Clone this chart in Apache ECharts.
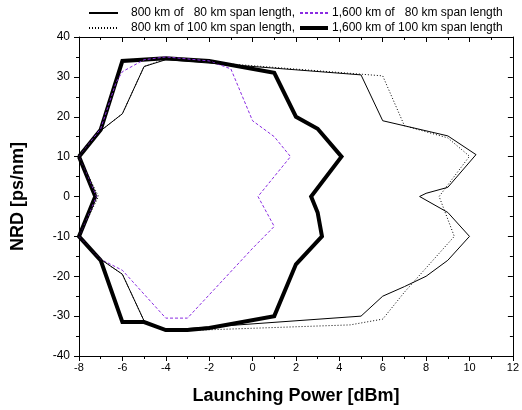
<!DOCTYPE html>
<html><head><meta charset="utf-8">
<script src="https://cdn.jsdelivr.net/npm/echarts@6/dist/echarts.min.js"></script>
<style>html,body{margin:0;padding:0;background:#fff}#c{width:522px;height:410px}</style>
</head><body><div id="c"></div>
<script>
// Series values: [launching power dBm, NRD ps/nm] traced round each closed contour
const s800_80 = [[-8,10],[-7,16.5],[-6,20.75],[-5,32.6],[-4,34.3],[5,30.5],[6,19],[9,15.2],[10.3,10.5],[9,2.3],[8,0.8],[7.7,0],[9,-4],[10,-10],[9,-16],[8,-20],[7,-22.6],[6,-25],[5,-30],[-4,-33.5],[-5,-31.2],[-6,-19.5],[-7,-15.75],[-8,-10],[-7.25,0],[-8,10]];
const s800_100 = [[-8,10],[-7,16.5],[-6,20.75],[-5,32.6],[-4,34.5],[6,30.25],[7,17.75],[9,14.7],[10,10.1],[8.6,0],[9.3,-10],[7,-24],[6,-30.75],[4.5,-32.2],[-4,-33.8],[-5,-31.2],[-6,-19.5],[-7,-15.75],[-8,-10],[-7.1,0],[-8,10]];
const s1600_80 = [[-8,10],[-7,17],[-6.3,28.5],[-6,31.3],[-5,34.3],[-4,35],[-2,34],[-1,32],[0,19],[1,15],[1.75,10],[0.25,0],[1,-7.5],[0,-13],[-3,-30.5],[-4,-30.5],[-6,-18.5],[-7,-15.75],[-8,-10],[-7.2,0],[-8,10]];
const s1600_100 = [[-8,10],[-7,16.75],[-6,34],[-4,34.7],[-2,34],[1,31],[2,20],[3,17],[4.1,10],[2.7,0],[3,-4],[3.2,-10],[2,-17],[1,-30],[-2,-33],[-3,-33.5],[-4,-33.5],[-5,-31.5],[-6,-31.5],[-7,-16],[-8,-10],[-7.25,0],[-8,10]];
const names = ['800 km of   80 km span length,','800 km of 100 km span length,','1,600 km of   80 km span length','1,600 km of 100 km span length'];
const xRange = [-8, 12, 2];
const yRange = [-40, 40, 10];

const FONT = 'Liberation Sans, Arial, sans-serif';
const chart = echarts.init(document.getElementById('c'), null, {renderer:'canvas'});
const axisLine = {show:true, onZero:false, lineStyle:{color:'#000', width:1}};
const legendCommon = {
  orient:'vertical', top:7, itemHeight:12, itemGap:3, padding:0,
  itemStyle:{opacity:0}
};
chart.setOption({
  animation:false,
  backgroundColor:'#fff',
  legend:[
    Object.assign({}, legendCommon, {left:88, itemWidth:29,
      textStyle:{fontFamily:FONT, fontSize:12, color:'#000', padding:[0,0,0,8]},
      data:[{name:names[0]}, {name:names[1]}]}),
    Object.assign({}, legendCommon, {left:298, itemWidth:28,
      textStyle:{fontFamily:FONT, fontSize:12, color:'#000', padding:[0,0,0,-1]},
      data:[{name:names[2]}, {name:names[3], lineStyle:{width:4}}]})
  ],
  grid:{left:79, right:8, top:37, bottom:53, containLabel:false},
  xAxis:[
    {type:'value', min:xRange[0], max:xRange[1], interval:xRange[2], position:'bottom',
     axisLine:axisLine, splitLine:{show:false},
     axisTick:{show:true, inside:false, length:5, lineStyle:{color:'#000'}},
     minorTick:{show:true, splitNumber:2, length:3, lineStyle:{color:'#000'}},
     axisLabel:{fontFamily:FONT, fontSize:11, color:'#000', margin:6},
     name:'Launching Power [dBm]', nameLocation:'middle', nameGap:31,
     nameTextStyle:{fontFamily:FONT, fontSize:18, fontWeight:'bold', color:'#000'}},
    {type:'value', min:xRange[0], max:xRange[1], interval:xRange[2], position:'top',
     axisLine:axisLine, splitLine:{show:false},
     axisTick:{show:true, inside:true, length:5, lineStyle:{color:'#000'}},
     minorTick:{show:true, splitNumber:2, length:3, lineStyle:{color:'#000'}},
     axisLabel:{show:false}}
  ],
  yAxis:[
    {type:'value', min:yRange[0], max:yRange[1], interval:yRange[2], position:'left',
     axisLine:axisLine, splitLine:{show:false},
     axisTick:{show:true, inside:false, length:5, lineStyle:{color:'#000'}},
     minorTick:{show:true, splitNumber:2, length:3, lineStyle:{color:'#000'}},
     axisLabel:{fontFamily:FONT, fontSize:12, color:'#000', margin:9},
     name:'NRD [ps/nm]', nameLocation:'middle', nameGap:52,
     nameTextStyle:{fontFamily:FONT, fontSize:18, fontWeight:'bold', color:'#000'}},
    {type:'value', min:yRange[0], max:yRange[1], interval:yRange[2], position:'right',
     axisLine:axisLine, splitLine:{show:false},
     axisTick:{show:true, inside:true, length:5, lineStyle:{color:'#000'}},
     minorTick:{show:true, splitNumber:2, length:3, lineStyle:{color:'#000'}},
     axisLabel:{show:false}}
  ],
  series:[
    {name:names[3], type:'line', data:s1600_100, symbol:'none', z:2,
     lineStyle:{color:'#000', width:4, type:'solid', join:'miter'}, itemStyle:{color:'#000'}},
    {name:names[2], type:'line', data:s1600_80, symbol:'none', z:3,
     lineStyle:{color:'#8A2BE2', width:1, type:[3,2]}, itemStyle:{color:'#8A2BE2'}},
    {name:names[1], type:'line', data:s800_100, symbol:'none', z:3,
     lineStyle:{color:'#000', width:1, type:[1,2]}, itemStyle:{color:'#000'}},
    {name:names[0], type:'line', data:s800_80, symbol:'none', z:4,
     lineStyle:{color:'#000', width:1, type:'solid'}, itemStyle:{color:'#000'}}
  ]
});
</script></body></html>
